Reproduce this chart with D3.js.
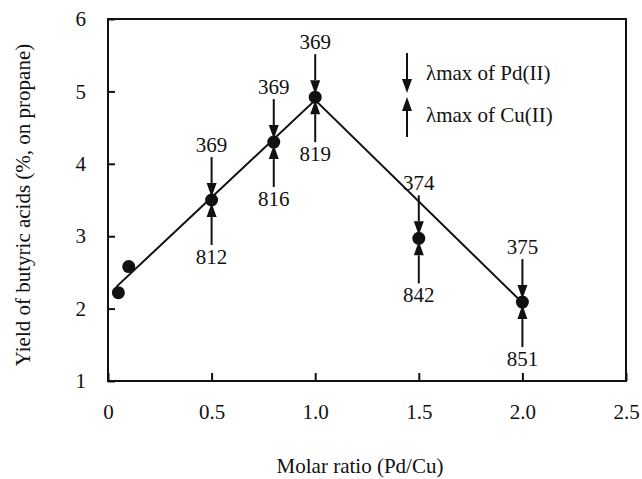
<!DOCTYPE html>
<html>
<head>
<meta charset="utf-8">
<script src="https://cdn.jsdelivr.net/npm/d3@7"></script>
<style>
  body { margin: 0; background: #fff; }
</style>
</head>
<body>
<div id="chart"></div>
<script>
// measured points: molar ratio Pd/Cu vs yield
var ratio = [0.05, 0.1, 0.5, 0.8, 1.0, 1.5, 2.0];
var yieldPct = [2.22, 2.58, 3.5, 4.3, 4.92, 2.97, 2.09];

// fitted line through the data
var fitX = [0.04, 1.0, 2.0];
var fitY = [2.3, 4.88, 2.08];

// lambda max annotations (Pd above, Cu below)
var annotRatio = [0.5, 0.8, 1.0, 1.5, 2.0];
var annotYield = [3.5, 4.3, 4.92, 2.97, 2.09];
var pdLambda = ["369", "369", "369", "374", "375"];
var cuLambda = ["812", "816", "819", "842", "851"];

var xTicks = [0, 0.5, 1.0, 1.5, 2.0, 2.5];
var xTickLabels = ["0", "0.5", "1.0", "1.5", "2.0", "2.5"];
var yTicks = [1, 2, 3, 4, 5, 6];

var legendLabels = ["\u03bbmax of Pd(II)", "\u03bbmax of Cu(II)"];

var width = 642, height = 479;
var margin = {top: 19, right: 16, bottom: 98, left: 108};
var FONT = "'Liberation Serif', 'Times New Roman', serif";

var svg = d3.select("#chart").append("svg")
    .attr("width", width)
    .attr("height", height)
    .attr("font-family", FONT);

var x = d3.scaleLinear().domain([0, 2.5]).range([margin.left, width - margin.right]);
var y = d3.scaleLinear().domain([1, 6]).range([height - margin.bottom, margin.top]);

// frame
svg.append("rect")
    .attr("x", x(0)).attr("y", y(6))
    .attr("width", x(2.5) - x(0)).attr("height", y(1) - y(6))
    .attr("fill", "none").attr("stroke", "#111").attr("stroke-width", 2);

var xAxis = d3.axisBottom(x)
    .tickValues(xTicks)
    .tickSize(-8)
    .tickPadding(23)
    .tickFormat(function(d, i) { return xTickLabels[i]; });

var gx = svg.append("g")
    .attr("transform", "translate(0," + y(1) + ")")
    .call(xAxis);

var yAxis = d3.axisLeft(y)
    .tickValues(yTicks)
    .tickSize(-7)
    .tickPadding(22)
    .tickFormat(d3.format("d"));

var gy = svg.append("g")
    .attr("transform", "translate(" + x(0) + ",0)")
    .call(yAxis);

[gx, gy].forEach(function(g) {
  g.attr("font-family", FONT).attr("font-size", 21);
  g.select(".domain").remove();
  g.selectAll(".tick line").attr("stroke", "#111").attr("stroke-width", 2);
  g.selectAll(".tick text").attr("fill", "#111");
});

// axis titles
svg.append("text")
    .attr("x", 360).attr("y", 473)
    .attr("text-anchor", "middle")
    .attr("font-size", 21)
    .attr("fill", "#111")
    .text("Molar ratio (Pd/Cu)");

svg.append("text")
    .attr("transform", "translate(30,205) rotate(-90)")
    .attr("text-anchor", "middle")
    .attr("font-size", 21)
    .attr("fill", "#111")
    .text("Yield of butyric acids (%, on propane)");

// fitted line
var line = d3.line()
    .x(function(d) { return x(d[0]); })
    .y(function(d) { return y(d[1]); });

svg.append("path")
    .datum(d3.zip(fitX, fitY))
    .attr("d", line)
    .attr("fill", "none")
    .attr("stroke", "#111")
    .attr("stroke-width", 2);

// data points
svg.selectAll("circle.pt")
    .data(d3.zip(ratio, yieldPct))
    .enter().append("circle")
    .attr("class", "pt")
    .attr("cx", function(d) { return x(d[0]); })
    .attr("cy", function(d) { return y(d[1]); })
    .attr("r", 6.5)
    .attr("fill", "#111");

// arrow helper: tip at (tx,ty), dir 1 = pointing down, -1 = pointing up
function arrow(g, tx, ty, dir, len) {
  var headLen = 14, headW = 5;
  g.append("line")
      .attr("x1", tx).attr("x2", tx)
      .attr("y1", ty - dir * len).attr("y2", ty - dir * headLen)
      .attr("stroke", "#111").attr("stroke-width", 2);
  g.append("path")
      .attr("d", "M" + tx + "," + ty +
                 "L" + (tx - headW) + "," + (ty - dir * headLen) +
                 "L" + (tx + headW) + "," + (ty - dir * headLen) + "Z")
      .attr("fill", "#111");
}

var ann = svg.append("g");
annotRatio.forEach(function(r, i) {
  var px = x(r), py = y(annotYield[i]);
  arrow(ann, px, py - 3, 1, 40);
  arrow(ann, px, py + 3, -1, 42);
  ann.append("text")
      .attr("x", px).attr("y", py - 48)
      .attr("text-anchor", "middle")
      .attr("font-size", 21)
      .attr("fill", "#111")
      .text(pdLambda[i]);
  ann.append("text")
      .attr("x", px).attr("y", py + 64)
      .attr("text-anchor", "middle")
      .attr("font-size", 21)
      .attr("fill", "#111")
      .text(cuLambda[i]);
});

// legend
var leg = svg.append("g");
arrow(leg, 407, 93, 1, 40);
arrow(leg, 407, 97, -1, 40);
leg.selectAll("text")
    .data(legendLabels)
    .enter().append("text")
    .attr("x", 426)
    .attr("y", function(d, i) { return 80 + i * 42; })
    .attr("font-size", 21)
    .attr("fill", "#111")
    .text(function(d) { return d; });
</script>
</body>
</html>
